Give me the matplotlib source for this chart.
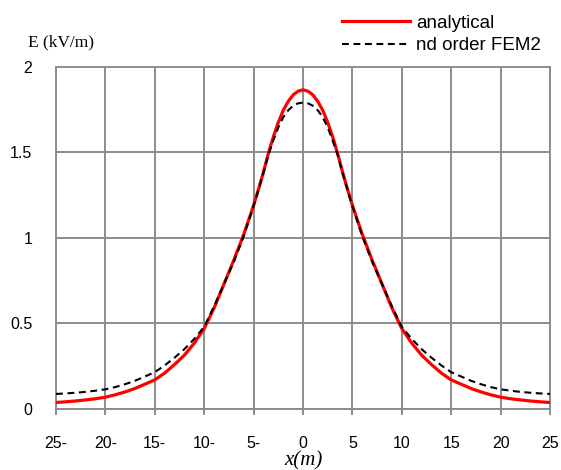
import matplotlib
matplotlib.use("Agg")
import matplotlib.pyplot as plt

# x positions (m)
x_pos = [0, 0.5, 1, 1.5, 2, 2.5, 3, 3.5, 4, 4.5, 5, 6, 7, 8, 9, 10, 11, 12, 13, 14,
         15, 16, 17, 18, 19, 20, 21, 22, 23, 24, 25]
# analytical field (kV/m), symmetric about x=0
analytical_half = [1.865, 1.857, 1.835, 1.797, 1.745, 1.675, 1.59, 1.495, 1.385, 1.285, 1.19,
                   1.02, 0.87, 0.73, 0.59, 0.47, 0.385, 0.315, 0.26, 0.21,
                   0.17, 0.145, 0.12, 0.10, 0.083, 0.069, 0.06, 0.053, 0.047, 0.042, 0.038]
# 2nd order FEM field (kV/m)
fem_half = [1.79, 1.786, 1.772, 1.745, 1.705, 1.645, 1.57, 1.485, 1.38, 1.28, 1.185,
            1.01, 0.86, 0.73, 0.60, 0.48, 0.41, 0.35, 0.30, 0.255,
            0.215, 0.19, 0.165, 0.145, 0.128, 0.115, 0.107, 0.10, 0.095, 0.091, 0.088]

x_ticks = [-25, -20, -15, -10, -5, 0, 5, 10, 15, 20, 25]
x_tick_labels = ["25-", "20-", "15-", "10-", "5-", "0", "5", "10", "15", "20", "25"]
y_ticks = [0, 0.5, 1, 1.5, 2]
y_tick_labels = ["0", "0.5", "1", "1.5", "2"]

x_full = [-v for v in x_pos[::-1]] + x_pos[1:]
an_full = analytical_half[::-1] + analytical_half[1:]
fem_full = fem_half[::-1] + fem_half[1:]

W, H = 561, 470
fig = plt.figure(figsize=(W / 100, H / 100), dpi=100)
ax = fig.add_axes([56 / W, (H - 409) / H, (550 - 56) / W, (409 - 66.7) / H])

grid_c = "#8c8c8c"
ax.plot(x_full, an_full, color="#ff0000", lw=2.3, label="analytical", zorder=3,
        solid_joinstyle="round")
ax.plot(x_full, fem_full, color="black", lw=1.5, ls=(0, (3.3, 2.2)),
        label="nd order FEM2", zorder=4)

ax.set_xlim(-25, 25)
ax.set_ylim(0, 2)
ax.set_xticks(x_ticks)
ax.set_xticklabels(x_tick_labels)
ax.set_yticks(y_ticks)
ax.set_yticklabels(y_tick_labels)
ax.grid(True, color=grid_c, lw=1.4)
ax.set_axisbelow(True)
for s in ax.spines.values():
    s.set_color(grid_c)
    s.set_linewidth(1.4)

for lab in ax.get_xticklabels() + ax.get_yticklabels():
    lab.set_fontfamily("Liberation Sans")
    lab.set_fontsize(11.5)
ax.tick_params(axis="x", direction="out", length=4, width=1.4, color=grid_c, pad=15.5)
ax.tick_params(axis="y", length=0, pad=17)

fig.text(28 / W, 1 - 42 / H, "E (kV/m)", family="Liberation Serif", fontsize=12.5,
         ha="left", va="center")
fig.text(303 / W, 1 - 461 / H, "x(m)", family="Liberation Serif", style="italic",
         fontsize=15, ha="center", va="center")

leg = ax.legend(loc="upper left", bbox_to_anchor=(342 / W, 1 - 14.5 / H),
                bbox_transform=fig.transFigure, frameon=False,
                prop=dict(family="Liberation Sans", size=13.5),
                handlelength=3.6, handletextpad=0.35, labelspacing=0.3,
                borderpad=0, borderaxespad=0)

fig.savefig("out.png", dpi=100)
